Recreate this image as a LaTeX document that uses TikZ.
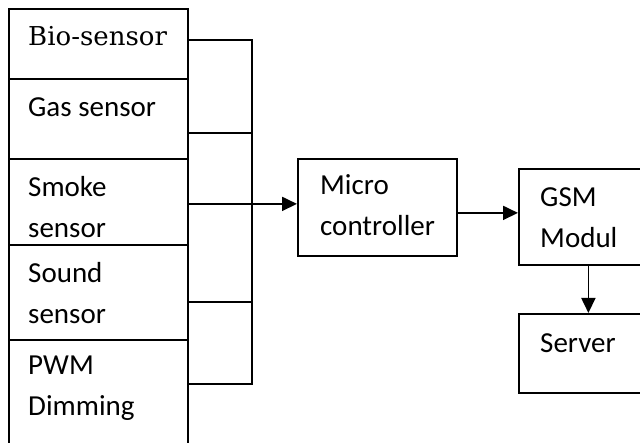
\documentclass[tikz,border=0pt]{standalone}
\usepackage{fontspec}
\setmainfont{Carlito}
\newfontfamily\biofont{DejaVu Serif}
\usetikzlibrary{arrows.meta}

\begin{document}
\begin{tikzpicture}[x=1pt,y=-1pt,
  blk/.style={draw,line width=1.8pt,anchor=north west,inner sep=0pt},
  txt/.style={anchor=base west,inner sep=0pt,align=left,font=\fontsize{29}{41}\selectfont},
  wire/.style={line width=1.8pt},
  arr/.style={line width=1.8pt,-{Triangle[length=15pt,width=14pt]}}]
\useasboundingbox (0,0) rectangle (640,443);
\clip (0,0) rectangle (640,443);
% sensor column
\node[blk,minimum width=179,minimum height=70] (bio) at (8,8) {};
\node[blk,minimum width=179,minimum height=80] (gas) at (8,78) {};
\node[blk,minimum width=179,minimum height=86] (smoke) at (8,158) {};
\node[blk,minimum width=179,minimum height=95] (sound) at (8,244) {};
\node[blk,minimum width=179,minimum height=120] (pwm) at (8,339) {};
% multi-line text: base is the last line
\node[txt,font=\biofont\fontsize{26}{30}\selectfont] (biotext) at (28,46) {Bio-sensor};
\node[txt] (gastext) at (28,117) {Gas sensor};
\node[txt] (smoketext) at (28,238) {Smoke\\sensor};
\node[txt] (soundtext) at (28,324) {Sound\\sensor};
\node[txt] (pwmtext) at (28,416) {PWM\\Dimming};
% processing blocks
\node[blk,minimum width=159,minimum height=97] (micro) at (297,158) {};
\node[txt] (microtext) at (320,236) {Micro\\controller};
\node[blk,minimum width=139,minimum height=96] (gsm) at (518,168) {};
\node[txt] (gsmtext) at (540,248) {GSM\\Modul};
\node[blk,minimum width=139,minimum height=79] (server) at (518,313) {};
\node[txt] (servertext) at (540,353) {Server};
% connectors
\coordinate (bus) at (252,0);
\coordinate (bioout) at ([yshift=4pt]bio.east);
\coordinate (gasout) at ([yshift=-14pt]gas.east);
\coordinate (smokeout) at ([yshift=-2pt]smoke.east);
\coordinate (soundout) at ([yshift=-9.5pt]sound.east);
\coordinate (pwmout) at ([yshift=16pt]pwm.east);
\coordinate (microout) at ([yshift=-5.5pt]micro.east);
\draw[wire] (bioout) -- (bioout -| bus) |- (pwmout);
\draw[wire] (gasout) -- (gasout -| bus);
\draw[wire] (soundout) -- (soundout -| bus);
\draw[arr] (smokeout) -- (smokeout -| micro.west);
\draw[arr] (microout) -- (microout -| gsm.west);
\draw[arr] (gsm.south) -- (server.north);
\end{tikzpicture}
\end{document}
